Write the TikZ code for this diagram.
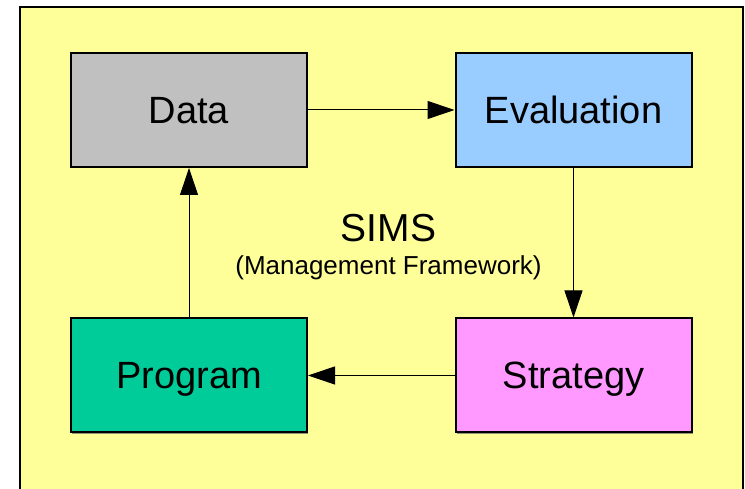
\documentclass[tikz,border=0pt]{standalone}
\usepackage{fontspec}
\setmainfont{Liberation Sans}
\usetikzlibrary{arrows.meta,shadows}
\definecolor{bgyellow}{HTML}{FFFF99}
\definecolor{datagray}{HTML}{C0C0C0}
\definecolor{evalblue}{HTML}{99CCFF}
\definecolor{proggreen}{HTML}{00CC99}
\definecolor{stratpink}{HTML}{FF99FF}
\tikzset{
  stagebox/.style={draw=black, line width=2pt, minimum width=236pt, minimum height=114pt,
    inner sep=0pt, font=\fontsize{38}{40}\selectfont, text height=27pt, text depth=0pt,
    drop shadow={shadow xshift=1.2pt, shadow yshift=-1.2pt, fill=black!60, opacity=0.7}},
  flow/.style={line width=1pt, -{Triangle[length=27pt,width=18pt]}},
}
\begin{document}
\begin{tikzpicture}[x=1pt,y=1pt]
\useasboundingbox (0,0) rectangle (745,489);
\fill[white] (0,0) rectangle (745,489);
\draw[line width=2pt, fill=bgyellow] (19.5,-10) -- (19.5,481.5) -- (743,481.5) -- (743,-10);
\node[stagebox, fill=datagray] (data) at (189,379) {Data};
\node[stagebox, fill=evalblue] (eval) at (573.5,379) {Evaluation};
\node[stagebox, fill=stratpink] (strat) at (573.5,113.5) {Strategy};
\node[stagebox, fill=proggreen] (prog) at (189,113.5) {Program};
\node[font=\fontsize{39}{41}\selectfont] (sims) at (388.5,261) {SIMS};
\node[font=\fontsize{26}{28}\selectfont] (sub) at (388.5,221) {(Management Framework)};
\draw[flow] (data.east) -- (eval.west);
\draw[flow] (eval.south) -- (strat.north);
\draw[flow] (strat.west) -- (prog.east);
\draw[flow] (prog.north) -- (data.south);
\end{tikzpicture}
\end{document}
